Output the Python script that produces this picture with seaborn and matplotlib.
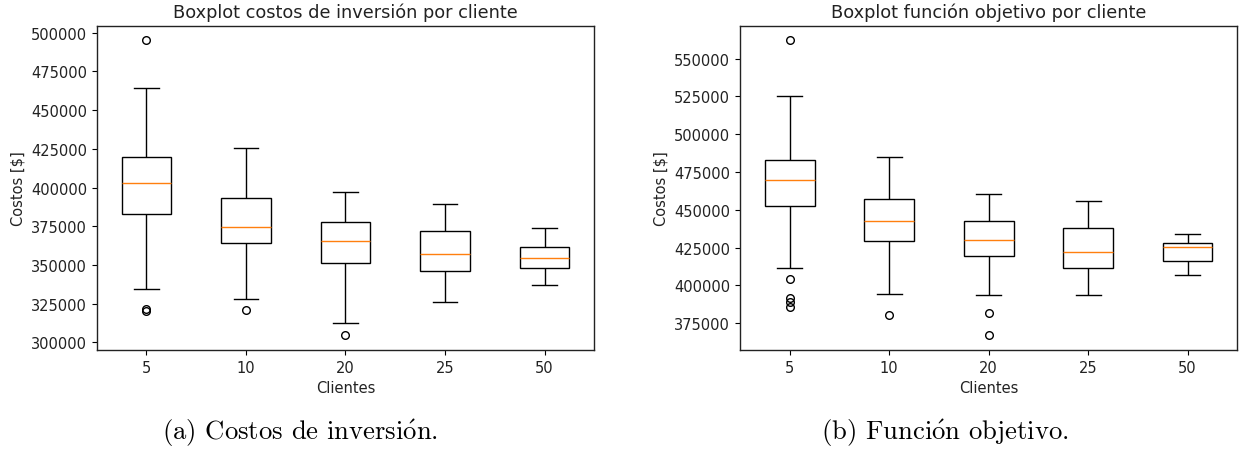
import matplotlib
matplotlib.use("Agg")
import matplotlib.pyplot as plt
import numpy as np
import pandas as pd
import seaborn as sns

# Number of clients per scenario
clientes = ["5", "10", "20", "25", "50"]

# Investment costs [$] observed for each number of clients
inversion_5 = [320000, 321500, 334600, 382700, 390000, 397000, 402850,
               408000, 414000, 420000, 440000, 464400, 495000]
inversion_10 = [320600, 327700, 364400, 370000, 374700, 384000, 393100,
                410000, 425700]
inversion_20 = [304600, 312400, 351500, 358000, 365200, 371000, 378000,
                388000, 397000]
inversion_25 = [325800, 345900, 357250, 371800, 389250]
inversion_50 = [337200, 347800, 354650, 361400, 373700]

# Objective function values [$] for each number of clients
objetivo_5 = [385500, 388700, 391800, 404400, 411450, 452750, 456000,
              460000, 463500, 467000, 469500, 472000, 475000, 478000,
              481000, 483250, 490000, 498000, 510000, 525500, 562100]
objetivo_10 = [380500, 394600, 429350, 436000, 442800, 450000, 457400,
               470000, 485250]
objetivo_20 = [367000, 381800, 393550, 419150, 423000, 427000, 430200,
               434000, 438500, 442600, 448000, 454000, 460700]
objetivo_25 = [393750, 411450, 422250, 437950, 455850]
objetivo_50 = [406550, 416300, 425100, 428200, 433950]

titulos = ["Boxplot costos de inversión por cliente",
           "Boxplot función objetivo por cliente"]
# Captions typeset in Computer Modern; the accent goes through mathtext
subtitulos = [r"(a) Costos de inversi$\acute{\mathrm{o}}$n.",
              r"(b) Funci$\acute{\mathrm{o}}$n objetivo."]


def to_long(groups):
    rows = []
    for c, vals in zip(clientes, groups):
        rows += [(c, v) for v in vals]
    return pd.DataFrame(rows, columns=["Clientes", "Costos"])


df_inv = to_long([inversion_5, inversion_10, inversion_20, inversion_25,
                  inversion_50])
df_obj = to_long([objetivo_5, objetivo_10, objetivo_20, objetivo_25,
                  objetivo_50])

plt.rcParams["font.family"] = ["DejaVu Sans"]
plt.rcParams["mathtext.fontset"] = "cm"

fig = plt.figure(figsize=(12.41, 4.52), dpi=100)
ax1 = fig.add_axes([0.0779, 0.2235, 0.401, 0.7175])
ax2 = fig.add_axes([0.5963, 0.2235, 0.4007, 0.7175])

box_kw = dict(
    x="Clientes", y="Costos", order=clientes, width=0.5,
    color="white", linecolor="black", linewidth=1.0, fliersize=5.5,
    medianprops=dict(color="#ff7f0e", linewidth=1.0),
    flierprops=dict(marker="o", markerfacecolor="none",
                    markeredgecolor="black", markeredgewidth=1.0),
)

for ax, df, titulo in zip([ax1, ax2], [df_inv, df_obj], titulos):
    sns.boxplot(data=df, ax=ax, **box_kw)
    ax.set_title(titulo, fontsize=12.8, color="#222222")
    ax.set_xlabel("Clientes", fontsize=10.5, color="#222222")
    ax.set_ylabel("Costos [$]", fontsize=10.5, color="#222222")
    ax.tick_params(labelsize=10.5, labelcolor="#222222")
    for s in ax.spines.values():
        s.set_color("#222222")
        s.set_linewidth(1.0)

fig.text(0.2415, 0.042, subtitulos[0], ha="center", va="center",
         fontsize=19.2, family=["cmr10", "DejaVu Serif"])
fig.text(0.7615, 0.042, subtitulos[1], ha="center", va="center",
         fontsize=19.2, family=["cmr10", "DejaVu Serif"])

fig.savefig("out.png", dpi=100)
